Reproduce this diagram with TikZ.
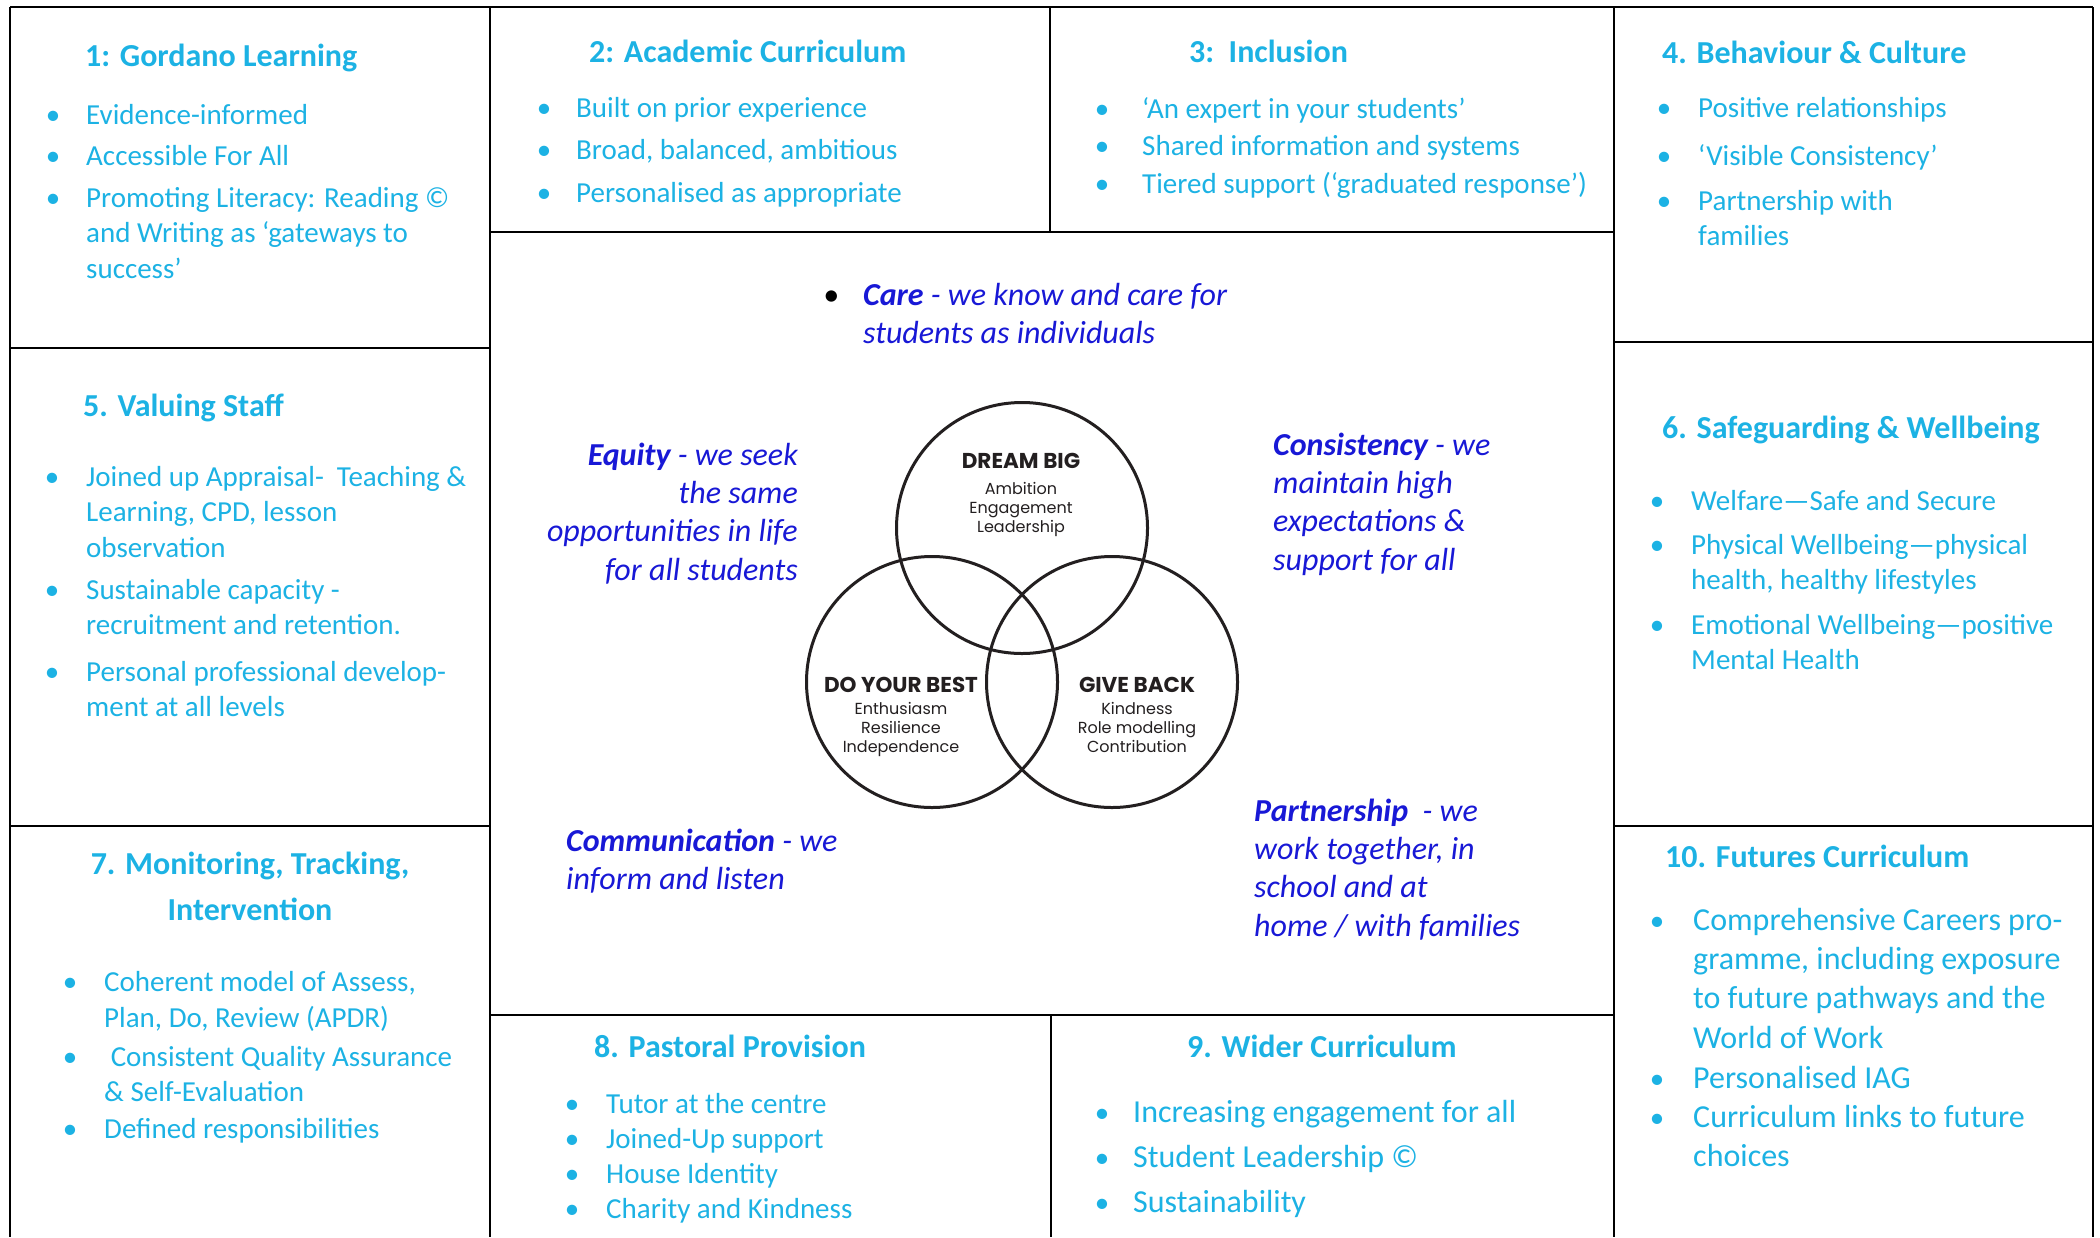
\documentclass[tikz,border=0pt]{standalone}
\usepackage{fontspec}
\setmainfont{Carlito}
\newfontfamily\vennfont{Poppins}
\definecolor{skyblue}{HTML}{1CB2E4}
\definecolor{valueblue}{HTML}{1818D6}
\definecolor{venngrey}{HTML}{231F20}
\newcommand\headfont{\fontsize{32}{46}\selectfont\bfseries}
\newcommand\listfont{\fontsize{29}{35.5}\selectfont}
\newcommand\biglistfont{\fontsize{32}{39.3}\selectfont}
\newcommand\valuefont{\fontsize{32}{38.3}\selectfont\itshape}

\begin{document}
\begin{tikzpicture}[x=1pt,y=-1pt,
	frame/.style={line width=2.8pt},
	boxhead/.style={anchor=base west,inner sep=0pt,text=skyblue,font=\headfont},
	boxitem/.style={anchor=base west,inner sep=0pt,text=skyblue,align=left,font=\listfont},
	bigitem/.style={boxitem,font=\biglistfont},
	boxdot/.style={anchor=base,inner sep=0pt,text=skyblue,font=\listfont},
	value/.style={inner sep=0pt,text=valueblue,font=\valuefont},
	venn/.style={circle,draw=venngrey,line width=3pt,minimum size=251pt,inner sep=0pt},
	vennhead/.style={anchor=base,inner sep=0pt,text=venngrey,font=\vennfont\bfseries\fontsize{21.5}{24}\selectfont},
	vennsub/.style={anchor=base,inner sep=0pt,text=venngrey,align=center,font=\vennfont\fontsize{16}{19}\selectfont}]
	\useasboundingbox (0,0) rectangle (2100,1237);
	\fill[white] (0,0) rectangle (2100,1237);

	% grid of boxes
	\draw[frame] (10,7) -- (2093,7);
	\draw[frame] (10,7) -- (10,1237);
	\draw[frame] (490,7) -- (490,1237);
	\draw[frame] (1614,7) -- (1614,1237);
	\draw[frame] (2093,7) -- (2093,1237);
	\draw[frame] (1050,7) -- (1050,232);
	\draw[frame] (1051,1015) -- (1051,1237);
	\draw[frame] (490,232) -- (1614,232);
	\draw[frame] (490,1015) -- (1614,1015);
	\draw[frame] (10,348) -- (490,348);
	\draw[frame] (1614,342) -- (2093,342);
	\draw[frame] (10,826) -- (490,826);
	\draw[frame] (1614,826) -- (2093,826);

	% 1 (multi-line nodes sit on their last baseline)
	\node[boxhead] (t1) at (85,66) {1: Gordano Learning};
	\node[boxdot] (d1a) at (53,124) {•};
	\node[boxitem] (i1a) at (86,124) {Evidence-informed};
	\node[boxdot] (d1b) at (53,165) {•};
	\node[boxitem] (i1b) at (86,165) {Accessible For All};
	\node[boxdot] (d1c) at (53,207) {•};
	\node[boxitem] (i1c) at (86,278) {Promoting Literacy: Reading ©\\and Writing as ‘gateways to\\success’};

	% 2
	\node[boxhead] (t2) at (589,62) {2: Academic Curriculum};
	\node[boxdot] (d2a) at (544,117) {•};
	\node[boxitem] (i2a) at (576,117) {Built on prior experience};
	\node[boxdot] (d2b) at (544,159) {•};
	\node[boxitem] (i2b) at (576,159) {Broad, balanced, ambitious};
	\node[boxdot] (d2c) at (544,202) {•};
	\node[boxitem] (i2c) at (576,202) {Personalised as appropriate};

	% 3
	\node[boxhead] (t3) at (1189,62) {3:\ \ Inclusion};
	\node[boxdot] (d3a) at (1102,118) {•};
	\node[boxitem] (i3a) at (1142,118) {‘An expert in your students’};
	\node[boxdot] (d3b) at (1102,155) {•};
	\node[boxitem] (i3b) at (1142,155) {Shared information and systems};
	\node[boxdot] (d3c) at (1102,193) {•};
	\node[boxitem] (i3c) at (1142,193) {Tiered support (‘graduated response’)};

	% 4
	\node[boxhead] (t4) at (1662,63) {4. Behaviour \& Culture};
	\node[boxdot] (d4a) at (1664,117) {•};
	\node[boxitem] (i4a) at (1698,117) {Positive relationships};
	\node[boxdot] (d4b) at (1664,165) {•};
	\node[boxitem] (i4b) at (1698,165) {‘Visible Consistency’};
	\node[boxdot] (d4c) at (1664,210) {•};
	\node[boxitem] (i4c) at (1698,245.5) {Partnership with\\families};

	% 5
	\node[boxhead] (t5) at (83,416) {5. Valuing Staff};
	\node[boxdot] (d5a) at (52,486) {•};
	\node[boxitem] (i5a) at (86,557) {Joined up Appraisal-\ \ Teaching \&\\Learning, CPD, lesson\\observation};
	\node[boxdot] (d5b) at (52,599) {•};
	\node[boxitem] (i5b) at (86,634.5) {Sustainable capacity -\\recruitment and retention.};
	\node[boxdot] (d5c) at (52,681) {•};
	\node[boxitem] (i5c) at (86,716.5) {Personal professional develop-\\ment at all levels};

	% 6
	\node[boxhead] (t6) at (1662,438) {6. Safeguarding \& Wellbeing};
	\node[boxdot] (d6a) at (1657,510) {•};
	\node[boxitem] (i6a) at (1691,510) {Welfare—Safe and Secure};
	\node[boxdot] (d6b) at (1657,554) {•};
	\node[boxitem] (i6b) at (1691,589.5) {Physical Wellbeing—physical\\health, healthy lifestyles};
	\node[boxdot] (d6c) at (1657,634) {•};
	\node[boxitem] (i6c) at (1691,669.5) {Emotional Wellbeing—positive\\Mental Health};

	% 7
	\node[boxhead,anchor=base,align=center] (t7) at (250,920) {7. Monitoring, Tracking,\\Intervention};
	\node[boxdot] (d7a) at (70,991) {•};
	\node[boxitem] (i7a) at (104,1027) {Coherent model of Assess,\\Plan, Do, Review (APDR)};
	\node[boxdot] (d7b) at (70,1066) {•};
	\node[boxitem] (i7b) at (104,1101.5) {\ Consistent Quality Assurance\\\& Self-Evaluation};
	\node[boxdot] (d7c) at (70,1138) {•};
	\node[boxitem] (i7c) at (104,1138) {Defined responsibilities};

	% 8
	\node[boxhead] (t8) at (594,1057) {8. Pastoral Provision};
	\node[boxdot] (d8a) at (572,1113) {•};
	\node[boxitem] (i8a) at (606,1113) {Tutor at the centre};
	\node[boxdot] (d8b) at (572,1148) {•};
	\node[boxitem] (i8b) at (606,1148) {Joined-Up support};
	\node[boxdot] (d8c) at (572,1183) {•};
	\node[boxitem] (i8c) at (606,1183) {House Identity};
	\node[boxdot] (d8d) at (572,1218) {•};
	\node[boxitem] (i8d) at (606,1218) {Charity and Kindness};

	% 9
	\node[boxhead] (t9) at (1187,1057) {9. Wider Curriculum};
	\node[boxdot] (d9a) at (1102,1122) {•};
	\node[bigitem] (i9a) at (1133,1122) {Increasing engagement for all};
	\node[boxdot] (d9b) at (1102,1167) {•};
	\node[bigitem] (i9b) at (1133,1167) {Student Leadership ©};
	\node[boxdot] (d9c) at (1102,1212) {•};
	\node[bigitem] (i9c) at (1133,1212) {Sustainability};

	% 10
	\node[boxhead] (t10) at (1665,867) {10. Futures Curriculum};
	\node[boxdot] (d10a) at (1657,930) {•};
	\node[bigitem] (i10a) at (1693,1048) {Comprehensive Careers pro-\\gramme, including exposure\\to future pathways and the\\World of Work};
	\node[boxdot] (d10b) at (1657,1088) {•};
	\node[bigitem] (i10b) at (1693,1088) {Personalised IAG};
	\node[boxdot] (d10c) at (1657,1127) {•};
	\node[bigitem] (i10c) at (1693,1166.3) {Curriculum links to future\\choices};

	% values round the circles
	\node[value,anchor=base,text=black] (dcare) at (831,305) {•};
	\node[value,anchor=base west,align=left] (care) at (863,343.3) {\textbf{Care} - we know and care for\\students as individuals};
	\node[value,anchor=base east,align=right] (equity) at (798,580) {\textbf{Equity} - we seek\\the same\\opportunities in life\\for all students};
	\node[value,anchor=base west,align=left] (consist) at (1273,570) {\textbf{Consistency} - we\\maintain high\\expectations \&\\support for all};
	\node[value,anchor=base west,align=left] (comm) at (566,889.3) {\textbf{Communication} - we\\inform and listen};
	\node[value,anchor=base west,align=left] (partner) at (1254,936) {\textbf{Partnership}\ \ - we\\work together, in\\school and at\\home / with families};

	% venn
	\node[venn] (dream) at (1022,528) {};
	\node[venn] (best) at (932,682) {};
	\node[venn] (back) at (1112,682) {};
	\node[vennhead] (dreamt) at (1021,468) {DREAM BIG};
	\node[vennsub] (dreams) at (1021,532) {Ambition\\Engagement\\Leadership};
	\node[vennhead] (bestt) at (901,692) {DO YOUR BEST};
	\node[vennsub] (bests) at (901,752) {Enthusiasm\\Resilience\\Independence};
	\node[vennhead] (backt) at (1137,692) {GIVE BACK};
	\node[vennsub] (backs) at (1137,752) {Kindness\\Role modelling\\Contribution};
\end{tikzpicture}
\end{document}
